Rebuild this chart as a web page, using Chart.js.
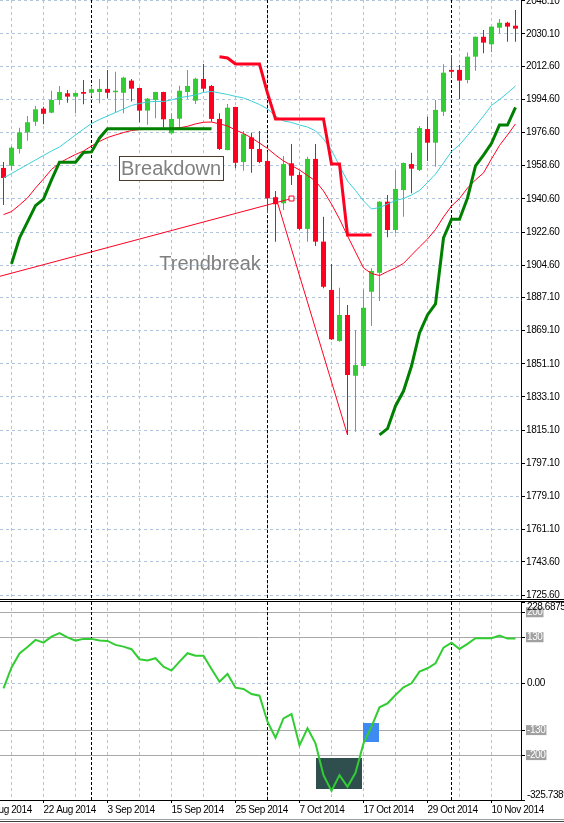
<!DOCTYPE html>
<html><head><meta charset="utf-8">
<script src="https://cdn.jsdelivr.net/npm/chart.js@4.4.1/dist/chart.umd.min.js"></script>
<style>
html,body{margin:0;padding:0;background:#fff;}
#wrap{position:relative;width:564px;height:823px;overflow:hidden;background:#fff;}
canvas{position:absolute;left:0;}
#main{top:0;}
#ind{top:600px;}
.hl{position:absolute;left:0;width:564px;height:1px;}
</style></head><body>
<div id="wrap">
<canvas id="main" width="564" height="600"></canvas>
<canvas id="ind" width="564" height="223"></canvas>
<div class="hl" style="top:599px;background:#000"></div>
<div class="hl" style="top:601px;background:#000"></div>
<div class="hl" style="top:819px;background:#a0a0a0"></div>
<div class="hl" style="top:821px;background:#404040"></div>
</div>
<script>
// ---------------- DATA ----------------
const dates = ['15 Aug 2014','18 Aug 2014','19 Aug 2014','20 Aug 2014','21 Aug 2014','22 Aug 2014','25 Aug 2014','26 Aug 2014','27 Aug 2014','28 Aug 2014','29 Aug 2014',
'1 Sep 2014','2 Sep 2014','3 Sep 2014','4 Sep 2014','5 Sep 2014','8 Sep 2014','9 Sep 2014','10 Sep 2014','11 Sep 2014','12 Sep 2014','15 Sep 2014','16 Sep 2014','17 Sep 2014','18 Sep 2014','19 Sep 2014','22 Sep 2014','23 Sep 2014','24 Sep 2014','25 Sep 2014','26 Sep 2014','29 Sep 2014','30 Sep 2014',
'1 Oct 2014','2 Oct 2014','3 Oct 2014','6 Oct 2014','7 Oct 2014','8 Oct 2014','9 Oct 2014','10 Oct 2014','13 Oct 2014','14 Oct 2014','15 Oct 2014','16 Oct 2014','17 Oct 2014','20 Oct 2014','21 Oct 2014','22 Oct 2014','23 Oct 2014','24 Oct 2014','27 Oct 2014','28 Oct 2014','29 Oct 2014','30 Oct 2014','31 Oct 2014',
'3 Nov 2014','4 Nov 2014','5 Nov 2014','6 Nov 2014','7 Nov 2014','10 Nov 2014','11 Nov 2014','12 Nov 2014','13 Nov 2014'];

const open = [1957.4,1958.6,1967.7,1976.7,1982.5,1989.6,1987.4,1994.3,1997.9,1996.1,
1998.6,1998.2,1998.6,2000.3,1998.5,1998.2,2004.8,2000.8,1988.5,1994.3,
1998.6,1976.2,1984.1,1998.6,1993.9,2005.7,2001.9,1984.0,1967.1,1990.5,
1960.6,1974.0,1967.7,1961.2,1941.5,1938.2,1959.9,1953.6,1924.3,1962.3,
1917.4,1891.2,1863.5,1877.6,1844.6,1849.9,1890.2,1900.5,1939.1,1923.7,
1945.4,1959.5,1956.3,1978.5,1971.1,1987.9,2010.6,2010.6,2005.1,2017.8,
2028.6,2024.5,2033.5,2036.2,2034.6];
const high = [1960.6,1969.3,1979.2,1985.6,1991.0,1990.6,1999.3,2001.9,1999.7,1998.3,
2005.1,2001.9,2005.7,2010.6,2009.6,2006.9,2005.7,2001.0,1995.4,1998.8,
1998.8,1987.1,2002.0,2010.6,2006.4,2013.8,2002.4,1987.1,1992.1,1990.6,
1977.5,1976.5,1977.5,1966.2,1944.9,1963.9,1970.4,1955.4,1963.5,1970.4,
1930.9,1905.3,1892.4,1883.0,1869.4,1891.5,1902.9,1939.3,1942.7,1956.3,
1960.3,1965.7,1980.2,1985.2,1994.3,2013.7,2018.7,2013.3,2020.0,2028.8,
2032.3,2034.2,2038.2,2036.8,2043.1];
const low = [1937.3,1956.3,1965.3,1972.2,1980.2,1981.1,1987.1,1991.7,1992.8,1987.1,
1991.9,1996.3,1992.5,1995.2,1987.4,1987.1,1993.4,1982.2,1980.9,1984.3,
1979.2,1976.0,1978.0,1995.0,1992.1,1998.8,1982.5,1967.1,1967.0,1957.2,
1955.9,1954.8,1959.9,1932.8,1917.4,1934.6,1948.1,1923.7,1917.4,1915.0,
1892.1,1864.0,1863.1,1812.5,1814.2,1849.5,1871.6,1885.2,1919.8,1921.9,
1930.9,1943.6,1955.7,1961.2,1958.1,1985.6,2006.4,1994.7,2003.3,2010.2,
2019.6,2020.2,2030.3,2025.9,2025.9];
const close = [1951.9,1968.4,1976.7,1982.2,1989.2,1986.8,1994.3,1998.6,1996.1,1998.1,
1997.7,2000.1,2000.3,1998.2,1999.3,2006.4,2000.4,1988.5,1995.0,1998.6,
1983.8,1984.0,1999.3,2001.9,2005.8,2000.4,1984.0,1967.7,1990.1,1960.2,
1975.7,1967.7,1960.6,1940.9,1937.7,1959.5,1953.2,1924.3,1962.3,1917.4,
1892.9,1864.4,1877.6,1845.0,1850.4,1881.5,1901.5,1939.1,1923.7,1946.0,
1960.1,1957.0,1979.1,1971.1,1988.9,2009.1,2009.6,2004.8,2017.8,2028.6,
2025.4,2034.1,2036.2,2034.1,2033.0];

const maFast = [1951.9,1954.4,1956.8,1959.3,1961.7,1964.2,1966.6,1968.8,1972.0,1975.3,
1978.5,1981.5,1983.7,1985.6,1987.5,1989.4,1991.3,1992.4,1993.2,1993.5,
1993.5,1994.3,1995.6,1996.2,1997.0,1998.4,1998.9,1998.1,1997.3,1996.2,
1995.4,1993.7,1991.8,1989.4,1985.6,1982.9,1982.1,1980.7,1979.6,1977.5,
1973.1,1967.1,1958.5,1950.3,1945.2,1939.5,1935.1,1935.9,1937.8,1939.7,
1940.8,1942.7,1945.2,1949.5,1954.1,1960.1,1966.3,1969.9,1975.0,1980.2,
1985.6,1991.3,1994.5,1998.1,2001.9];
const maSlow = [1932.1,1933.7,1937.3,1941.1,1946.5,1951.4,1956.6,1960.1,1962.5,1964.7,
1966.6,1969.3,1971.8,1973.9,1975.3,1976.6,1977.7,1978.2,1978.3,1978.5,
1978.7,1978.9,1979.2,1980.0,1981.3,1982.2,1982.3,1981.3,1980.2,1978.0,
1976.1,1973.7,1970.9,1968.0,1964.4,1961.2,1958.7,1956.3,1953.3,1950.3,
1944.9,1937.8,1929.7,1920.5,1911.8,1903.1,1900.1,1899.0,1901.2,1903.1,
1905.6,1910.1,1914.5,1918.8,1924.0,1930.8,1936.7,1940.8,1946.5,1950.9,
1954.7,1962.3,1969.6,1975.3,1981.3];
const trailUp = [null,1905.3,1919.4,1928.1,1936.9,1940.5,1950.9,1960.5,1960.5,1960.5,
1965.8,1966.1,1973.7,1978.7,1978.7,1978.7,1978.7,1978.7,1978.7,1978.7,
1978.7,1978.7,1978.7,1978.7,1978.7,1978.7,1978.7,null,null,null,
null,null,null,null,null,null,null,null,null,null,
null,null,null,null,null,null,null,1812.5,1815.9,1828.2,
1836.3,1849.9,1867.8,1877.6,1883.6,1919.4,1929.5,1929.5,1941.1,1958.5,
1964.4,1970.8,1980.7,1980.7,1990.3];
const trailDown = [null,null,null,null,null,null,null,null,null,null,
null,null,null,null,null,null,null,null,null,null,
null,null,null,null,null,null,null,2017.8,2017.1,2013.8,
2013.8,2013.8,2013.8,1998.0,1984.0,1984.0,1984.0,1984.0,1984.0,1984.0,
1984.0,1959.5,1959.5,1921.0,1921.0,1921.0,1921.0,null,null,null,
null,null,null,null,null,null,null,null,null,null,
null,null,null,null,null];
const cci = [-12.9,45.4,84.7,102.9,122.6,115.0,131.8,141.4,129.6,120.6,
125.4,125.4,120.6,119.8,108.6,103.8,96.5,68.4,65.1,71.2,
47.7,36.5,61.7,85.3,78.5,78.5,41.2,5.6,27.2,-11.2,
-14.9,-28.9,-33.7,-106.6,-151.5,-97.1,-85.0,-172.8,-125.1,-167.2,
-256.1,-300.1,-256.1,-288.9,-249.6,-167.2,-120.6,-66.2,-55.0,-31.7,
-10.1,1.1,33.7,43.2,57.2,101.0,115.0,97.3,111.4,127.3,
127.3,127.3,134.6,126.2,126.2];

// trend line objects (bar index, price)
const trendUpX = [-0.4375, 36];
const trendUpY = [1898.6, 1940.8];
const trendDownX = [34, 43];
const trendDownY = [1942.2, 1812.5];
const markerX = [36];
const markerY = [1940.8];

// axis tick labels
const priceTicks = [2048.1,2030.1,2012.6,1994.6,1976.6,1958.6,1940.6,1922.6,1904.6,1887.1,1869.1,1851.1,1833.1,1815.1,1797.1,1779.1,1761.1,1743.6,1725.6];
const cciTicks = [-325.7389,-200,-130,0,130,200,228.6875];
const cciLevels = [200,130,-130,-200];
const timeTickIndex = [-3,5,13,21,29,37,45,53,61];
const timeTickText = ['12 Aug 2014','22 Aug 2014','3 Sep 2014','15 Sep 2014','25 Sep 2014','7 Oct 2014','17 Oct 2014','29 Oct 2014','10 Nov 2014'];

// ---------------- SETUP ----------------
const GREEN = '#32CD32', RED = '#FF0020', CYAN = '#3CCFD6', DKGREEN = '#008000';
const GRID = '#B0C4DE';
const N = dates.length;
const idx = dates.map((_, i) => i);
const XMIN = -0.4375, XMAX = 64.6875;
const PMIN = 1722.89, PMAX = 2048.55;
const gridIdx = []; for (let i = 1; i < N; i += 4) gridIdx.push(i);
const monthStarts = idx.filter(i => i > 0 && dates[i].split(' ')[1] !== dates[i-1].split(' ')[1]);
const isUp = i => close[i] >= open[i];
const candleColors = idx.map(i => isUp(i) ? GREEN : RED);

Chart.defaults.font.family = "'Liberation Sans',Arial,sans-serif";
Chart.defaults.font.size = 10;
Chart.defaults.color = '#000';

const tight = {
  id: 'tight',
  beforeLayout(chart) { chart.ctx.letterSpacing = '-0.4px'; },
  beforeDraw(chart) { chart.ctx.letterSpacing = '-0.4px'; }
};

const overlay = {
  id: 'overlay',
  beforeDatasetsDraw(chart, args, o) {
    const {ctx, chartArea: a, scales: {x, y}} = chart;
    ctx.save();
    ctx.beginPath(); ctx.rect(a.left, a.top, a.right - a.left, a.bottom - a.top); ctx.clip();
    (o.rects || []).forEach(r => {
      const x1 = x.getPixelForValue(r.x0), x2 = x.getPixelForValue(r.x1);
      const y1 = y.getPixelForValue(r.y0), y2 = y.getPixelForValue(r.y1);
      ctx.fillStyle = r.color;
      ctx.fillRect(Math.round(Math.min(x1, x2)), Math.round(Math.min(y1, y2)),
                   Math.round(Math.abs(x2 - x1)), Math.round(Math.abs(y2 - y1)));
    });
    ctx.strokeStyle = '#000'; ctx.lineWidth = 1; ctx.setLineDash([3, 2]);
    monthStarts.forEach(i => {
      const px = x.getPixelForValue(i);
      ctx.beginPath(); ctx.moveTo(px, a.top); ctx.lineTo(px, a.bottom); ctx.stroke();
    });
    ctx.restore();
  },
  afterDatasetsDraw(chart, args, o) {
    const {ctx, scales: {x, y}} = chart;
    ctx.save();
    ctx.letterSpacing = '0px';
    (o.boxes || []).forEach(b => {
      const x1 = Math.round(x.getPixelForValue(b.x0)) + 0.5, x2 = Math.round(x.getPixelForValue(b.x1)) + 0.5;
      const y1 = Math.round(y.getPixelForValue(b.y0)) + 0.5, y2 = Math.round(y.getPixelForValue(b.y1)) + 0.5;
      ctx.fillStyle = '#fff'; ctx.fillRect(x1, y1, x2 - x1, y2 - y1);
      ctx.strokeStyle = b.color; ctx.lineWidth = 1; ctx.strokeRect(x1, y1, x2 - x1, y2 - y1);
    });
    (o.texts || []).forEach(t => {
      ctx.font = t.font; ctx.fillStyle = t.color; ctx.textAlign = 'left'; ctx.textBaseline = 'alphabetic';
      ctx.fillText(t.text, x.getPixelForValue(t.x), y.getPixelForValue(t.y));
    });
    ctx.restore();
  }
};

const lineDs = (data, color, width, order, extra) => Object.assign({
  type: 'line', data, borderColor: color, borderWidth: width, pointRadius: 0,
  tension: 0, spanGaps: false, fill: false, order
}, extra || {});

// ---------------- MAIN CHART ----------------
new Chart(document.getElementById('main'), {
  type: 'bar',
  data: { datasets: [
    { label: 'wick', data: idx.map(i => ({x: i, y: [low[i], high[i]]})), backgroundColor: candleColors,
      barThickness: 1, grouped: false, borderWidth: 0, inflateAmount: 0, order: 9 },
    { label: 'body', data: idx.map(i => ({x: i, y: [open[i], close[i]]})), backgroundColor: candleColors,
      barThickness: 5, grouped: false, borderWidth: 0, inflateAmount: 0, order: 8 },
    lineDs(trendUpX.map((v, k) => ({x: v, y: trendUpY[k]})), RED, 1, 6),
    lineDs(trendDownX.map((v, k) => ({x: v, y: trendDownY[k]})), RED, 1, 6),
    lineDs(idx.map(i => ({x: i, y: maSlow[i]})), RED, 1, 5),
    lineDs(idx.map(i => ({x: i, y: maFast[i]})), CYAN, 1, 4),
    lineDs(idx.map(i => ({x: i, y: trailUp[i]})), DKGREEN, 3, 3, {borderJoinStyle: 'miter'}),
    lineDs(idx.map(i => ({x: i, y: trailDown[i]})), RED, 3, 3, {borderJoinStyle: 'miter'}),
    { type: 'scatter', data: markerX.map((v, k) => ({x: v, y: markerY[k]})), pointStyle: 'rect',
      pointRadius: 3.5, borderColor: RED, backgroundColor: '#fff', borderWidth: 1, order: 1 }
  ]},
  options: {
    responsive: false, animation: false, maintainAspectRatio: false,
    layout: { padding: 0, autoPadding: false },
    plugins: {
      legend: { display: false }, tooltip: { enabled: false },
      overlay: {
        boxes: [{ x0: 14.44, y0: 1963.9, x1: 27.44, y1: 1951.1, color: '#4a3c2c' }],
        texts: [
          { text: 'Breakdown', x: 14.69, y: 1953.8, font: '20px "Liberation Sans", Arial, sans-serif', color: '#808080' },
          { text: 'Trendbreak', x: 19.47, y: 1902.0, font: '20px "Liberation Sans", Arial, sans-serif', color: '#808080' }
        ]
      }
    },
    scales: {
      x: { type: 'linear', min: XMIN, max: XMAX, offset: false,
        afterBuildTicks: s => { s.ticks = gridIdx.map(v => ({value: v})); },
        afterFit: s => { s.height = 0; s.paddingLeft = 0; s.paddingRight = 0; },
        ticks: { display: false, autoSkip: false },
        grid: { color: GRID, drawTicks: false, offset: false, lineWidth: 1 },
        border: { display: false, dash: [3, 3] } },
      y: { type: 'linear', position: 'right', min: PMIN, max: PMAX, beginAtZero: false,
        afterBuildTicks: s => { s.ticks = priceTicks.map(v => ({value: v})); },
        afterFit: s => { s.width = 43; s.paddingTop = 0; s.paddingBottom = 0; },
        ticks: { autoSkip: false, padding: 1, callback: v => v.toFixed(2) },
        grid: { color: GRID, drawTicks: true, tickLength: 4, tickColor: '#000', tickBorderDash: [], tickWidth: 1 },
        border: { display: true, color: '#000', width: 1, dash: ctx => ctx.type === 'tick' ? [3, 3] : [] } }
    }
  },
  plugins: [tight, overlay]
});

// ---------------- INDICATOR CHART ----------------
new Chart(document.getElementById('ind'), {
  type: 'line',
  data: { datasets: [
    lineDs(idx.map(i => ({x: i, y: cci[i]})), GREEN, 2, 1)
  ]},
  options: {
    responsive: false, animation: false, maintainAspectRatio: false,
    layout: { padding: { top: 2, left: 0, right: 0, bottom: 0 }, autoPadding: false },
    plugins: {
      legend: { display: false }, tooltip: { enabled: false },
      overlay: {
        rects: [
          { x0: 39.06, x1: 44.81, y0: -207.2, y1: -294.9, color: '#2F4F4F' },
          { x0: 44.94, x1: 46.94, y0: -110.1, y1: -163.3, color: '#3D8BF2' }
        ]
      }
    },
    scales: {
      x: { type: 'linear', min: XMIN, max: XMAX, offset: false,
        afterBuildTicks: s => { s.ticks = [timeTickIndex[0]].concat(gridIdx).map(v => ({value: v})); },
        afterFit: s => { s.height = 23; s.paddingLeft = 0; s.paddingRight = 0; },
        ticks: { autoSkip: false, align: 'start', maxRotation: 0, minRotation: 0, padding: 1,
          callback: v => { const k = timeTickIndex.indexOf(v); return k >= 0 ? timeTickText[k] : ''; } },
        grid: { color: GRID, drawTicks: true, tickLength: 3, offset: false, tickBorderDash: [],
          tickColor: ctx => (ctx.tick && timeTickIndex.includes(ctx.tick.value)) ? '#000' : 'rgba(0,0,0,0)' },
        border: { display: true, color: '#000', width: 1, dash: ctx => ctx.type === 'tick' ? [3, 3] : [] } },
      y: { type: 'linear', position: 'right', min: cciTicks[0], max: cciTicks[cciTicks.length - 1], beginAtZero: false,
        afterBuildTicks: s => { s.ticks = cciTicks.map(v => ({value: v})); },
        afterFit: s => { s.width = 43; s.paddingTop = 0; s.paddingBottom = 0; },
        ticks: { autoSkip: false, padding: 2, font: { size: 10, lineHeight: 1.0 },
          color: ctx => (ctx.tick && cciLevels.includes(ctx.tick.value)) ? '#fff' : '#000',
          showLabelBackdrop: ctx => !!(ctx.tick && cciLevels.includes(ctx.tick.value)),
          backdropColor: '#A0A0A0', backdropPadding: { top: 0, bottom: 0, left: 1, right: 1 },
          callback: v => {
            if (v === cciTicks[cciTicks.length - 1]) return ['', String(v)];
            if (v === cciTicks[0]) return [String(v), ''];
            if (v === 0) return '0.00';
            return String(v);
          } },
        grid: { drawTicks: true, tickLength: 4, tickColor: '#000', tickBorderDash: [], lineWidth: 1,
          color: ctx => {
            const v = ctx.tick ? ctx.tick.value : null;
            if (v === 0) return GRID;
            if (cciLevels.includes(v)) return '#A8A8A8';
            return 'rgba(0,0,0,0)';
          } },
        border: { display: true, color: '#000', width: 1,
          dash: ctx => (ctx.type === 'tick' && ctx.tick && ctx.tick.value === 0) ? [3, 3] : [] } }
    }
  },
  plugins: [tight, overlay]
});
</script>
</body></html>
